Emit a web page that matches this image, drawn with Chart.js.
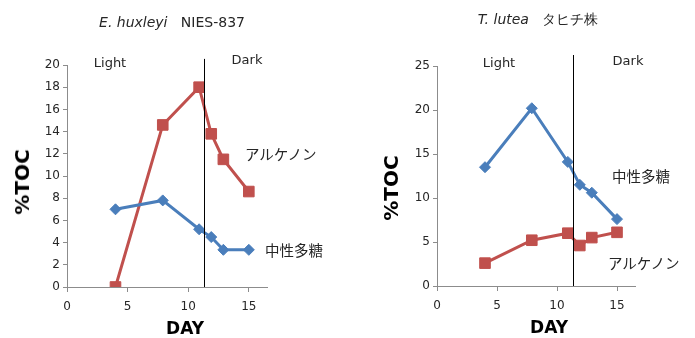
<!DOCTYPE html>
<html>
<head>
<meta charset="utf-8">
<script src="https://cdn.jsdelivr.net/npm/chart.js@4/dist/chart.umd.min.js"></script>
<style>
  html, body { margin: 0; padding: 0; background: #fff; }
  #wrap { position: relative; width: 695px; height: 338px; overflow: hidden; }
  canvas { position: absolute; top: 0; }
  .lbl { position: absolute; white-space: nowrap; color: #262626; line-height: 1; }
  .ttl { font: 14px "DejaVu Sans", sans-serif; transform: translate(-50%, -50%); }
  .ttl i { font-style: italic; }
  .phase { font: 13px "DejaVu Sans", sans-serif; transform: translate(-50%, -50%); }
  .jp { font: 14.5px "Noto Sans CJK JP", sans-serif; transform: translateY(-50%); }
  .ytitle { font: bold 20px "DejaVu Sans", sans-serif; color: #000; transform: translate(-50%, -50%) rotate(-90deg); }
  .xtitle { font: bold 17px "DejaVu Sans", sans-serif; color: #000; transform: translate(-50%, -50%); }
</style>
</head>
<body>
<div id="wrap">
  <canvas id="left" width="347" height="338" style="left:0"></canvas>
  <canvas id="right" width="348" height="338" style="left:347px"></canvas>

  <div class="lbl ttl" style="left:172px; top:22px"><i>E. huxleyi</i>&nbsp;&nbsp;&nbsp;NIES-837</div>
  <div class="lbl phase" style="left:110px; top:62px">Light</div>
  <div class="lbl phase" style="left:247px; top:59px">Dark</div>
  <div class="lbl jp" style="left:245px; top:153px">アルケノン</div>
  <div class="lbl jp" style="left:265px; top:249px">中性多糖</div>
  <div class="lbl ytitle" style="left:22px; top:182px">%TOC</div>
  <div class="lbl xtitle" style="left:185px; top:328px">DAY</div>

  <div class="lbl ttl" style="left:538px; top:20px"><i>T. lutea</i>&nbsp;&nbsp;&nbsp;タヒチ株</div>
  <div class="lbl phase" style="left:499px; top:62px">Light</div>
  <div class="lbl phase" style="left:628px; top:60px">Dark</div>
  <div class="lbl jp" style="left:612px; top:175px">中性多糖</div>
  <div class="lbl jp" style="left:608px; top:262px">アルケノン</div>
  <div class="lbl ytitle" style="left:391px; top:188px">%TOC</div>
  <div class="lbl xtitle" style="left:549px; top:327px">DAY</div>
</div>

<script>
// Sampling days (culture day)
const days = [4, 7.9, 10.9, 11.9, 12.9, 15];
// Day at which the light period ends
const lightOffDay = 11.3;

// E. huxleyi NIES-837 (%TOC)
const huxleyiAlkenone = [0, 14.6, 18.0, 13.8, 11.5, 8.6];
const huxleyiPolysaccharide = [7.0, 7.8, 5.2, 4.5, 3.35, 3.35];

// T. lutea Tahiti strain (%TOC)
const luteaPolysaccharide = [13.5, 20.2, 14.1, 11.5, 10.6, 7.6];
const luteaAlkenone = [2.6, 5.2, 6.0, 4.6, 5.5, 6.1];

// Axis tick values
const dayTicks = [0, 5, 10, 15];
const huxleyiTicks = [0, 2, 4, 6, 8, 10, 12, 14, 16, 18, 20];
const luteaTicks = [0, 5, 10, 15, 20, 25];

const RED = '#c0504d';
const BLUE = '#4a7ebb';
const AXIS = '#8c8c8c';

function toPoints(values) {
  return values.map((v, i) => ({ x: days[i], y: v }));
}

// Vertical black line marking the light/dark switch
const switchLine = {
  id: 'switchLine',
  afterDatasetsDraw(chart, args, opts) {
    const x = chart.scales.x.getPixelForValue(opts.day);
    const yTop = chart.scales.y.getPixelForValue(opts.top);
    const yBot = chart.scales.y.getPixelForValue(0);
    const ctx = chart.ctx;
    ctx.save();
    ctx.strokeStyle = '#000';
    ctx.lineWidth = 1;
    ctx.beginPath();
    ctx.moveTo(Math.round(x) + 0.5, yTop);
    ctx.lineTo(Math.round(x) + 0.5, yBot);
    ctx.stroke();
    ctx.restore();
  }
};

function series(values, color, style, radius) {
  return {
    data: toPoints(values),
    showLine: true,
    borderColor: color,
    backgroundColor: color,
    borderWidth: 3,
    pointStyle: style,
    pointRadius: radius,
    pointHoverRadius: radius,
    pointBackgroundColor: color,
    pointBorderColor: color,
    pointBorderWidth: 1
  };
}

function makeChart(id, datasets, yTicks, yMax, layout, lineTop) {
  return new Chart(document.getElementById(id), {
    type: 'scatter',
    data: { datasets },
    plugins: [switchLine],
    options: {
      responsive: false,
      animation: false,
      devicePixelRatio: 1,
      layout: { padding: { left: 0, top: layout.top, right: layout.right, bottom: 0 } },
      plugins: {
        legend: { display: false },
        tooltip: { enabled: false },
        switchLine: { day: lightOffDay, top: lineTop }
      },
      scales: {
        x: {
          type: 'linear',
          min: 0,
          max: 16.5,
          afterBuildTicks: s => { s.ticks = dayTicks.map(v => ({ value: v })); },
          afterFit: s => { s.height = layout.xHeight; },
          ticks: { color: '#262626', font: { family: 'DejaVu Sans', size: 12 }, padding: 8 },
          grid: { drawOnChartArea: false, color: AXIS, tickLength: 5 },
          border: { color: AXIS, width: 1 }
        },
        y: {
          type: 'linear',
          min: 0,
          max: yMax,
          afterBuildTicks: s => { s.ticks = yTicks.map(v => ({ value: v })); },
          afterFit: s => { s.width = layout.yWidth; },
          ticks: { color: '#262626', font: { family: 'DejaVu Sans', size: 12 }, padding: 3 },
          grid: { drawOnChartArea: false, color: AXIS, tickLength: 4 },
          border: { color: AXIS, width: 1 }
        }
      }
    }
  });
}

makeChart('left', [
  series(huxleyiPolysaccharide, BLUE, 'rectRot', 5.5),
  series(huxleyiAlkenone, RED, 'rect', 7.5)
], huxleyiTicks, 20, { top: 65, right: 80, xHeight: 51, yWidth: 67 }, 20.55);

makeChart('right', [
  series(luteaAlkenone, RED, 'rect', 7.5),
  series(luteaPolysaccharide, BLUE, 'rectRot', 5.5)
], luteaTicks, 25, { top: 66, right: 60, xHeight: 52, yWidth: 90 }, 26.25);
</script>
</body>
</html>
